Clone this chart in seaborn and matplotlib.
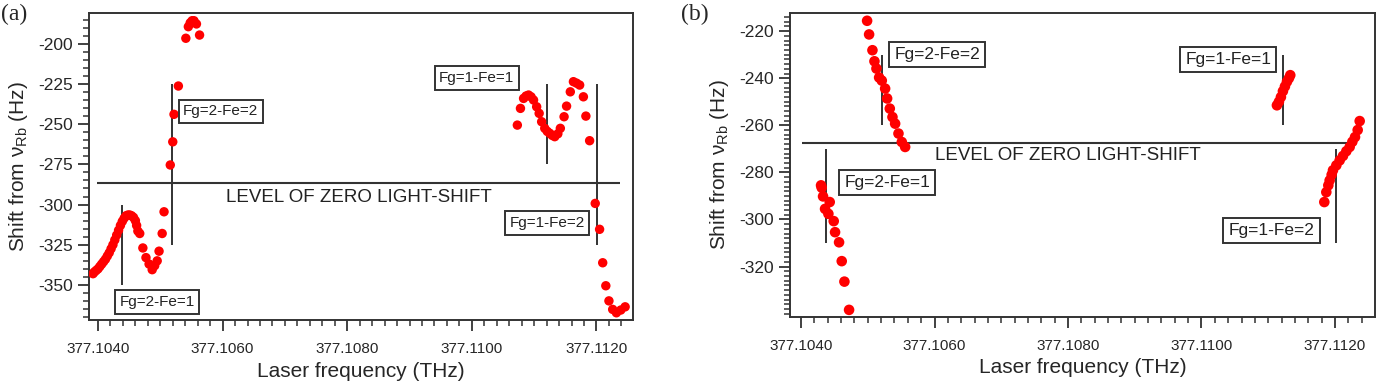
"""
Light-shift vs laser frequency, panels (a) and (b).
"""

import numpy as np
import pandas as pd
import matplotlib
matplotlib.use("Agg")
import matplotlib.pyplot as plt
import seaborn as sns
from matplotlib.ticker import FixedLocator, MultipleLocator, FormatStrFormatter

# ---- panel (a) data: laser frequency (THz) and shift (Hz) ----
freq_a1 = [377.10392, 377.10394, 377.10397, 377.10400, 377.10403, 377.10406, 377.10409,
           377.10412, 377.10415, 377.10418, 377.10421, 377.10424, 377.10427, 377.10430,
           377.10433, 377.10436, 377.10439, 377.10442, 377.10445, 377.10448, 377.10451,
           377.10454, 377.10457, 377.10460, 377.10462, 377.10464, 377.10467, 377.10472,
           377.10477, 377.10482, 377.10487, 377.10491, 377.10495, 377.10498, 377.10503,
           377.10506]
shift_a1 = [-343, -342, -341, -340, -338.5, -337, -335.5, -334, -332, -330, -327.5, -325,
            -322, -319, -316, -313, -310.5, -308.5, -307, -306.5, -306.5, -307, -308, -310,
            -313, -316.5, -318, -327, -333, -337, -340.5, -338, -335, -329, -318, -304.5]

freq_a2 = [377.10516, 377.10520, 377.10522, 377.10529, 377.10541, 377.10545, 377.10548,
           377.10551, 377.10554, 377.10558, 377.10563]
shift_a2 = [-275.4, -261.0, -243.9, -226.3, -196.6, -189.4, -187.0, -185.7, -185.7, -187.7, -194.6]

freq_a3 = [377.11073, 377.11078, 377.11083, 377.11087, 377.11091, 377.11095, 377.11099,
           377.11104, 377.11108, 377.11112, 377.11117, 377.11121, 377.11125, 377.11129,
           377.11133, 377.11138, 377.11142, 377.11148, 377.11152, 377.11158, 377.11163,
           377.11168, 377.11173, 377.11179, 377.11183, 377.11189]
shift_a3 = [-250.6, -240.2, -234.0, -232.5, -231.9, -233.0, -235.0, -239.2, -243.3, -248.5,
            -252.6, -254.5, -255.7, -257.0, -257.8, -256.0, -252.6, -245.4, -238.8, -229.9,
            -223.6, -224.5, -225.7, -233.0, -245.0, -260.3]

freq_a4 = [377.11198, 377.11205, 377.11210, 377.11215, 377.11220, 377.11226, 377.11232,
           377.11239, 377.11246]
shift_a4 = [-299.3, -315.4, -336.2, -350.5, -359.9, -365.2, -367.3, -365.6, -363.6]

# ---- panel (b) data ----
freq_b1 = [377.10430, 377.10431, 377.10433, 377.10436, 377.10441, 377.10443, 377.10449,
           377.10451, 377.10457, 377.10461, 377.10465, 377.10472]
shift_b1 = [-285.5, -286.5, -290.2, -295.5, -297.6, -292.6, -300.7, -305.4, -309.7, -317.7,
            -326.4, -338.4]

freq_b2 = [377.10499, 377.10502, 377.10507, 377.10510, 377.10513, 377.10517, 377.10521,
           377.10526, 377.10529, 377.10533, 377.10537, 377.10541, 377.10546, 377.10551,
           377.10556]
shift_b2 = [-215.6, -221.4, -228.1, -232.8, -235.9, -239.7, -241.0, -244.4, -248.6, -252.9,
            -256.5, -259.3, -263.5, -267.1, -269.2]

freq_b3 = [377.11113, 377.11116, 377.11119, 377.11122, 377.11125, 377.11128, 377.11131, 377.11133]
shift_b3 = [-251.5, -250.0, -248.0, -245.5, -243.5, -241.5, -240.0, -238.7]

freq_b4 = [377.11184, 377.11187, 377.11190, 377.11192, 377.11195, 377.11197, 377.11202,
           377.11207, 377.11212, 377.11217, 377.11222, 377.11226, 377.11230, 377.11234,
           377.11237]
shift_b4 = [-292.6, -288.4, -285.5, -283.4, -281.0, -279.1, -277.0, -274.9, -273.0, -271.0,
            -269.2, -267.0, -265.0, -262.0, -258.2]

# transition labels and marker lines
labels = ["Fg=2-Fe=1", "Fg=2-Fe=2", "Fg=1-Fe=1", "Fg=1-Fe=2"]

line_freq_a = [377.10438, 377.10519, 377.11120, 377.11201]
line_lo_a = [-350, -325, -275, -325]
line_hi_a = [-300, -225, -225, -225]
label_x_a = [377.10495, 377.10597, 377.11008, 377.11121]
label_y_a = [-360.6, -241.9, -221.3, -311.5]

line_freq_b = [377.10438, 377.10521, 377.11122, 377.11202]
line_lo_b = [-310, -260, -260, -310]
line_hi_b = [-270, -230, -230, -270]
label_x_b = [377.10529, 377.10604, 377.11040, 377.11105]
label_y_b = [-284.3, -229.8, -232.1, -304.7]

zero_level_a = -286.5
zero_level_b = -267.4

xticks = [377.1040, 377.1060, 377.1080, 377.1100, 377.1120]
yticks_a = [-350, -325, -300, -275, -250, -225, -200]
yticks_b = [-320, -300, -280, -260, -240, -220]


def make_df(freqs, shifts):
    parts = []
    for f, s in zip(freqs, shifts):
        parts.append(pd.DataFrame({"freq": f, "shift": s}))
    return pd.concat(parts, ignore_index=True)


def draw_panel(ax, df, line_freq, line_lo, line_hi, label_x, label_y, zero_level,
               zero_span, zero_text_x, zero_text_y, xlim, ylim, yticks, yminor,
               msize, lab_fs, panel_tag, tag_xy):
    sns.scatterplot(data=df, x="freq", y="shift", ax=ax, color="#ff0000",
                    edgecolor="none", s=msize, zorder=3, legend=False)
    ax.vlines(line_freq, line_lo, line_hi, color="#222222", lw=1.3, zorder=2)
    ax.hlines(zero_level, zero_span[0], zero_span[1], color="#333333", lw=1.5, zorder=2)
    ax.text(zero_text_x, zero_text_y, "LEVEL OF ZERO LIGHT-SHIFT", fontsize=13.5,
            ha="left", va="center", color="#222222")
    for lx, ly, txt in zip(label_x, label_y, labels):
        ax.text(lx, ly, txt, fontsize=lab_fs, ha="center", va="center", color="#222222",
                zorder=4,
                bbox=dict(boxstyle="square,pad=0.3", fc="white", ec="#333333", lw=1.4))

    ax.set_xlim(*xlim)
    ax.set_ylim(*ylim)
    ax.xaxis.set_major_locator(FixedLocator(xticks))
    ax.xaxis.set_minor_locator(MultipleLocator(0.0002))
    ax.xaxis.set_major_formatter(FormatStrFormatter("%.4f"))
    ax.yaxis.set_major_locator(FixedLocator(yticks))
    ax.yaxis.set_minor_locator(MultipleLocator(yminor))
    ax.tick_params(axis="x", which="major", direction="out", length=8, width=1.3,
                   labelsize=11, pad=8, color="#333333")
    ax.tick_params(axis="y", which="major", direction="out", length=8, width=1.3,
                   labelsize=12.5, color="#333333")
    ax.tick_params(which="minor", direction="out", length=4.5, width=1.1, color="#333333")
    ax.tick_params(top=False, right=False, which="both")
    for sp in ax.spines.values():
        sp.set_visible(True)
        sp.set_color("#333333")
        sp.set_linewidth(1.4)
    ax.set_xlabel("Laser frequency (THz)", fontsize=15, labelpad=4)
    ax.set_ylabel("Shift from ν$_\\mathregular{Rb}$ (Hz)", fontsize=15, labelpad=6)
    ax.grid(False)
    ax.figure.text(tag_xy[0], tag_xy[1], panel_tag, fontsize=17,
                   family="Liberation Serif", ha="left", va="center")


sns.set_theme(style="ticks")
plt.rcParams["font.family"] = ["Liberation Sans", "DejaVu Sans"]
plt.rcParams["axes.unicode_minus"] = False

fig = plt.figure(figsize=(13.78, 3.85), dpi=100)
ax_a = fig.add_axes([0.0646, 0.1688, 0.4594 - 0.0646, 0.9662 - 0.1688])
ax_b = fig.add_axes([0.5733, 0.1774, 0.9978 - 0.5733, 0.9662 - 0.1774])

df_a = make_df([freq_a1, freq_a2, freq_a3, freq_a4], [shift_a1, shift_a2, shift_a3, shift_a4])
df_b = make_df([freq_b1, freq_b2, freq_b3, freq_b4], [shift_b1, shift_b2, shift_b3, shift_b4])

draw_panel(ax_a, df_a, line_freq_a, line_lo_a, line_hi_a, label_x_a, label_y_a,
           zero_level_a, (377.10398, 377.11238), 377.10605, -295.4,
           (377.103856, 377.112587), (-371.8, -180.9), yticks_a, 5,
           msize=46, lab_fs=11, panel_tag="(a)", tag_xy=(0.001, 0.962))
draw_panel(ax_b, df_b, line_freq_b, line_lo_b, line_hi_b, label_x_b, label_y_b,
           zero_level_b, (377.10401, 377.11222), 377.10601, -273.0,
           (377.103835, 377.112599), (-341.3, -212.3), yticks_b, 2,
           msize=58, lab_fs=12.5, panel_tag="(b)", tag_xy=(0.494, 0.962))

fig.savefig("out.png", dpi=100)
plt.close(fig)
